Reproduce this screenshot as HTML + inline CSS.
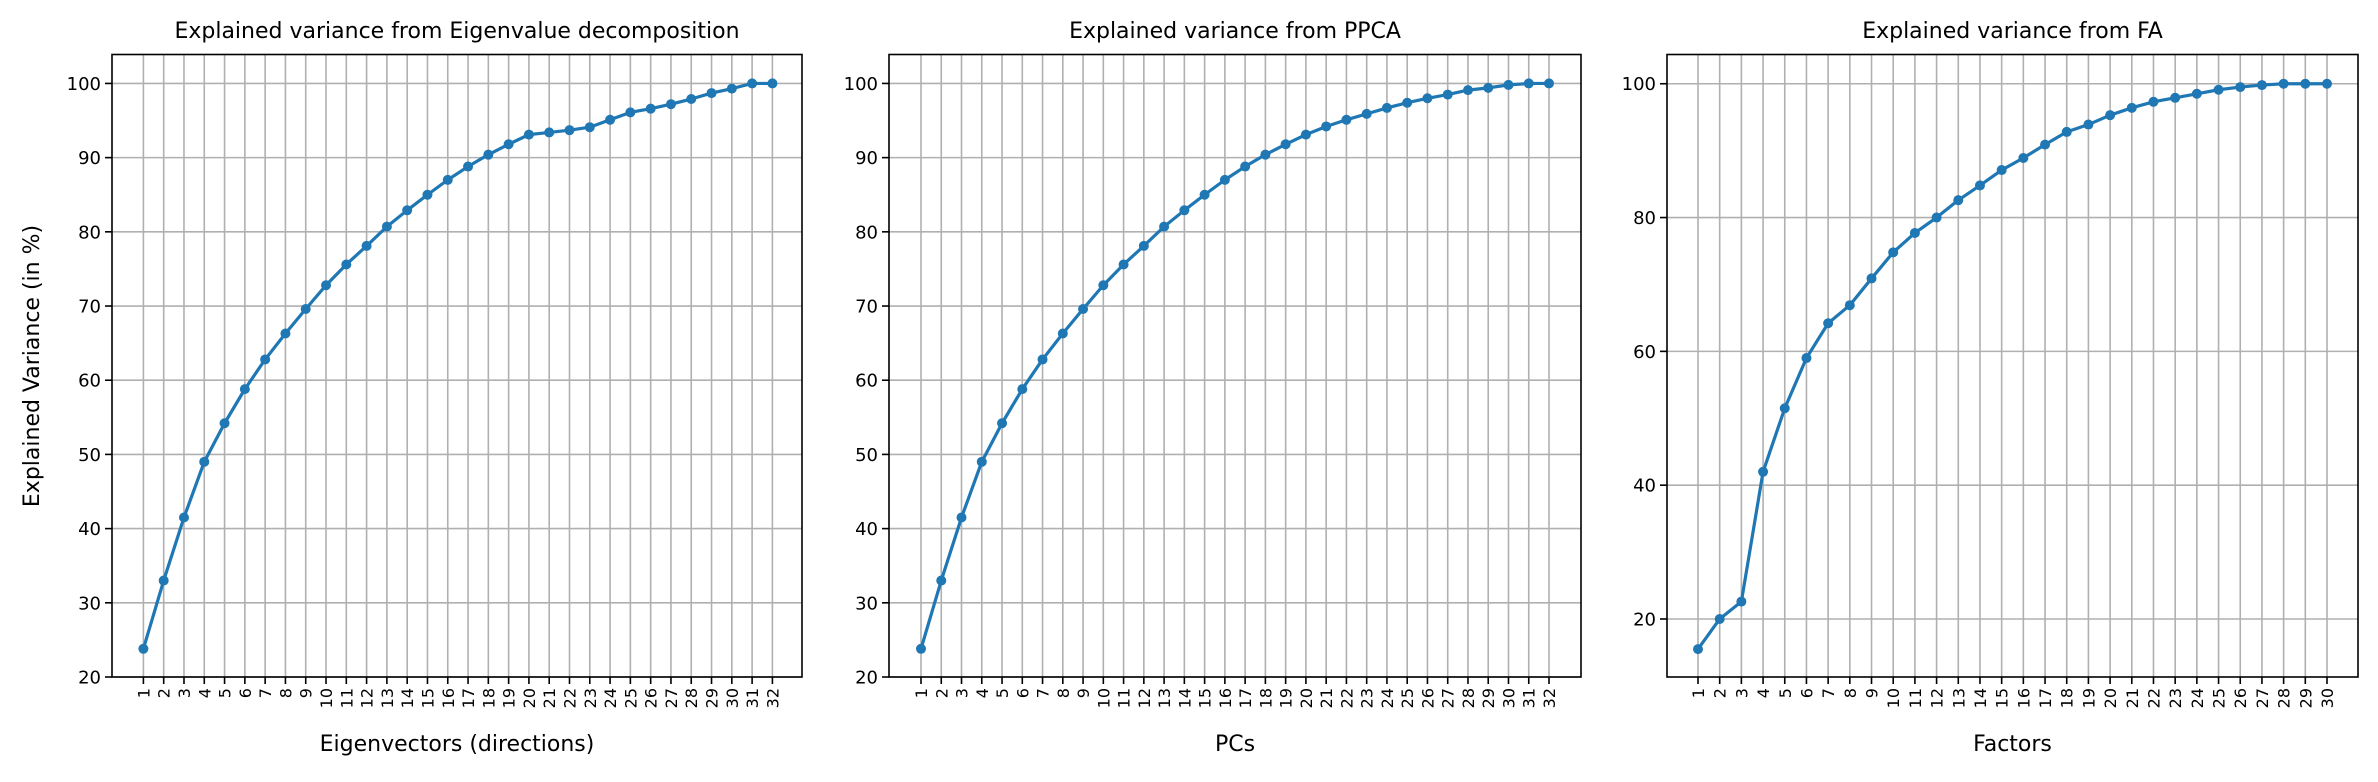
<!DOCTYPE html>
<html><head><meta charset="utf-8"><style>
html,body{margin:0;padding:0;background:#fff;}
svg text{font-family:"DejaVu Sans","Liberation Sans",sans-serif;fill:#000;}
</style></head><body>
<svg id="chart" width="2378" height="777" xmlns="http://www.w3.org/2000/svg"></svg>
<script>
const eigenValues = [23.8,33,41.5,49,54.2,58.8,62.8,66.3,69.6,72.8,75.6,78.1,80.7,82.9,85,87,88.8,90.4,91.8,93.1,93.4,93.7,94.1,95.1,96.1,96.6,97.2,97.9,98.7,99.3,100,100];
const ppcaValues = [23.8,33,41.5,49,54.2,58.8,62.8,66.3,69.6,72.8,75.6,78.1,80.7,82.9,85,87,88.8,90.4,91.8,93.1,94.2,95.1,95.9,96.7,97.4,98,98.5,99.1,99.4,99.8,100,100];
const faValues = [15.5,20,22.6,42,51.5,59,64.2,66.9,70.9,74.8,77.7,80,82.6,84.8,87.1,88.9,90.9,92.8,93.9,95.3,96.4,97.3,97.9,98.5,99.1,99.5,99.8,100,100,100];
const ticks12 = [20,30,40,50,60,70,80,90,100];
const ticks3 = [20,40,60,80,100];
const titles = ["Explained variance from Eigenvalue decomposition","Explained variance from PPCA","Explained variance from FA"];
const xLabels = ["Eigenvectors (directions)","PCs","Factors"];

const NS="http://www.w3.org/2000/svg";
const svg=document.getElementById('chart');
function mk(tag,attrs,parent){const e=document.createElementNS(NS,tag);for(const k in attrs)e.setAttribute(k,attrs[k]);(parent||svg).appendChild(e);return e;}

const panels=[
 {L:112,R:802,x1:143.4,xn:772.4,ymin:20,ymax:103.9,vals:eigenValues,ticks:ticks12},
 {L:889,R:1581,x1:921,xn:1549,ymin:20,ymax:103.9,vals:ppcaValues,ticks:ticks12},
 {L:1667,R:2358,x1:1698,xn:2327,ymin:11.33,ymax:104.37,vals:faValues,ticks:ticks3}
];
const T=54.5,B=677;
panels.forEach((p,pi)=>{
  const g=mk('g',{});
  
  
  const n=p.vals.length;
  const xs=i=>p.x1+(p.xn-p.x1)*i/(n-1);
  const ys=v=>B-(v-p.ymin)/(p.ymax-p.ymin)*(B-T);
  // grid
  for(let i=0;i<n;i++){
    const l=mk('line',{x1:xs(i),x2:xs(i),y1:T,y2:B,stroke:'#b0b0b0','stroke-width':1.6},g);
    
    
  }
  p.ticks.forEach(t=>{
    const y=ys(t);
    const l=mk('line',{x1:p.L,x2:p.R,y1:y,y2:y,stroke:'#b0b0b0','stroke-width':1.6},g);
    
    
    const tk=mk('line',{x1:p.L-7,x2:p.L,y1:y,y2:y,stroke:'#000','stroke-width':1.6},g);
    
    
    const tx=mk('text',{x:p.L-11,y:y+6.5,'text-anchor':'end','font-size':18},g);
    tx.textContent=t;
    
    
  });
  for(let i=0;i<n;i++){
    const x=xs(i);
    const tk=mk('line',{x1:x,x2:x,y1:B,y2:B+7,stroke:'#000','stroke-width':1.6},g);
    
    
    const tx=mk('text',{x:0,y:0,'text-anchor':'end','font-size':16,transform:`translate(${x+6},${B+11}) rotate(-90)`},g);
    tx.textContent=String(i+1);
    
    
  }
  // line
  const pts=p.vals.map((v,i)=>xs(i)+','+ys(v)).join(' ');
  const pl=mk('polyline',{points:pts,fill:'none',stroke:'#1f77b4','stroke-width':3.2,'stroke-linejoin':'round'},g);
  
  
  p.vals.forEach((v,i)=>{
    const c=mk('circle',{cx:xs(i),cy:ys(v),r:5,fill:'#1f77b4'},g);
    
    
  });
  const fr=mk('rect',{x:p.L,y:T,width:p.R-p.L,height:B-T,fill:'none',stroke:'#000','stroke-width':1.6},g);
  
  
  const tt=mk('text',{x:(p.L+p.R)/2,y:38,'text-anchor':'middle','font-size':22},g);
  tt.textContent=titles[pi];
  
  
  const xl=mk('text',{x:(p.L+p.R)/2,y:751,'text-anchor':'middle','font-size':22},g);
  xl.textContent=xLabels[pi];
  
  
});
const yl=mk('text',{x:0,y:0,'text-anchor':'middle','font-size':22,transform:'translate(39,366) rotate(-90)'});
yl.textContent='Explained Variance (in %)';


</script>
</body></html>
